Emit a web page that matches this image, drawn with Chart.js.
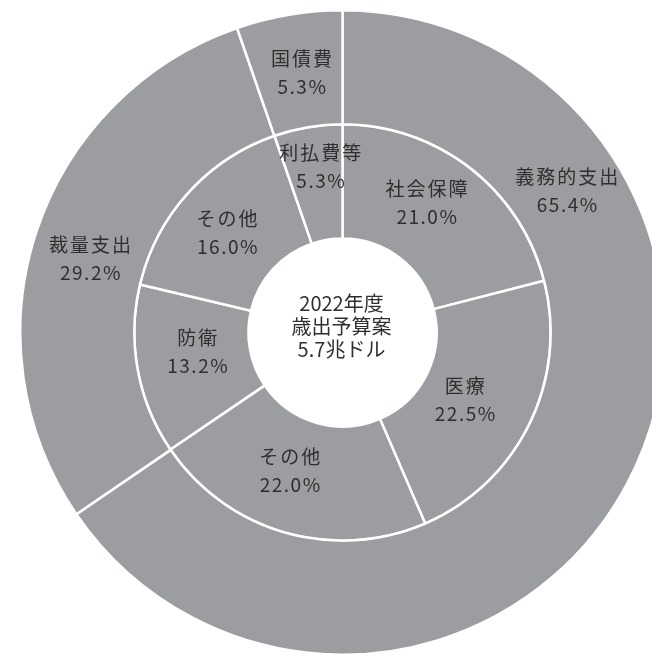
<!DOCTYPE html>
<html lang="ja">
<head>
<meta charset="utf-8">
<title>2022年度 歳出予算案</title>
<script src="https://cdn.jsdelivr.net/npm/chart.js@4/dist/chart.umd.min.js"></script>
<style>
  html, body { margin: 0; padding: 0; background: #fff; overflow: hidden; }
  body { width: 652px; height: 659px; position: relative; }
  #wrap { position: absolute; left: 19px; top: 9px; width: 647px; height: 647px; }
</style>
</head>
<body>
<div id="wrap"><canvas id="budgetChart"></canvas></div>
<script>
// 外側: 義務的支出 / 裁量支出 / 国債費
const outerLabels = ["義務的支出", "裁量支出", "国債費"];
const outerValues = [65.4, 29.2, 5.3];

// 内側: 内訳
const innerLabels = ["社会保障", "医療", "その他", "防衛", "その他", "利払費等"];
const innerValues = [21.0, 22.5, 22.0, 13.2, 16.0, 5.3];

const centerLines = ["2022年度", "歳出予算案", "5.7兆ドル"];

// ラベル位置 [弧に沿った割合, リング幅の割合]
const outerPlace = [[0.245, 0.5], [0.48, 0.48], [0.53, 0.48]];
const innerPlace = [[0.435, 0.53], [0.535, 0.4], [0.56, 0.47], [0.56, 0.46], [0.475, 0.51], [0.6, 0.64]];

const GRAY = "#9c9da1";
const TEXT = "#2f2f2f";
const FONT = '"Noto Sans CJK JP", "Noto Sans", sans-serif';

const ringLabels = {
  id: "ringLabels",
  afterDatasetsDraw(chart) {
    const ctx = chart.ctx;
    ctx.save();
    ctx.fillStyle = TEXT;
    ctx.textAlign = "center";
    ctx.textBaseline = "middle";

    chart.data.datasets.forEach((ds, di) => {
      const meta = chart.getDatasetMeta(di);
      meta.data.forEach((arc, i) => {
        const p = arc.getProps(["x", "y", "startAngle", "endAngle", "innerRadius", "outerRadius"], true);
        const [af, rf] = ds.place[i];
        const a = p.startAngle + (p.endAngle - p.startAngle) * af;
        const r = p.innerRadius + (p.outerRadius - p.innerRadius) * rf;
        const x = p.x + Math.cos(a) * r;
        const y = p.y + Math.sin(a) * r;
        ctx.font = "19px " + FONT;
        ctx.letterSpacing = "2px";
        ctx.fillText(ds.names[i], x + 1, y - 14);
        ctx.letterSpacing = "1.5px";
        ctx.fillText(ds.data[i].toFixed(1) + "%", x + 1, y + 14);
      });
    });

    // 中央の文字
    const c = chart.getDatasetMeta(0).data[0];
    ctx.font = "20px " + FONT;
    ctx.letterSpacing = "0px";
    centerLines.forEach((t, i) => {
      ctx.fillText(t, c.x - 1, c.y - 29 + i * 23);
    });
    ctx.restore();
  },
};

new Chart(document.getElementById("budgetChart"), {
  type: "doughnut",
  data: {
    datasets: [
      {
        names: outerLabels,
        place: outerPlace,
        data: outerValues,
        backgroundColor: GRAY,
        borderColor: "#fff",
        borderWidth: 2.5,
      },
      {
        names: innerLabels,
        place: innerPlace,
        data: innerValues,
        backgroundColor: GRAY,
        borderColor: "#fff",
        borderWidth: 2.5,
      },
    ],
  },
  options: {
    responsive: true,
    maintainAspectRatio: false,
    animation: false,
    cutout: "29.2%",
    layout: { padding: 0 },
    plugins: {
      legend: { display: false },
      tooltip: { enabled: false },
    },
  },
  plugins: [ringLabels],
});
</script>
</body>
</html>
